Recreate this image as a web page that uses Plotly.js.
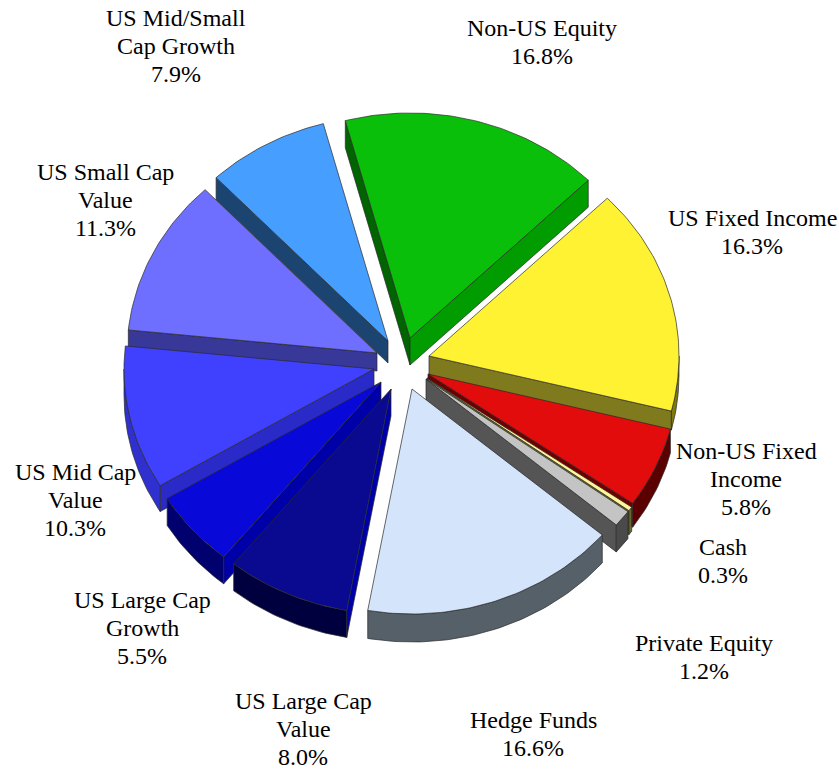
<!DOCTYPE html>
<html>
<head>
<meta charset="utf-8">
<script src="https://cdn.plot.ly/plotly-3.0.1.min.js"></script>
<style>html,body{margin:0;padding:0;background:#fff}#chart{width:839px;height:770px}</style>
</head>
<body>
<div id="chart"></div>
<script>
// Data
const categories = ["Non-US Equity","US Fixed Income","Non-US Fixed Income","Cash","Private Equity","Hedge Funds","US Large Cap Value","US Large Cap Growth","US Mid Cap Value","US Small Cap Value","US Mid/Small Cap Growth"];
const shares = [16.8,16.3,5.8,0.3,1.2,16.6,8.0,5.5,10.3,11.3,7.9];
const labelLines = [["Non-US Equity"],["US Fixed Income"],["Non-US Fixed","Income"],["Cash"],["Private Equity"],["Hedge Funds"],["US Large Cap","Value"],["US Large Cap","Growth"],["US Mid Cap","Value"],["US Small Cap","Value"],["US Mid/Small","Cap Growth"]];

// Styles
const topColors = ["#0ABF0A","#FFF233","#E20C0C","#FFF59A","#C4C4C4","#D3E4FB","#0A0A90","#0808D8","#4040FF","#6E6EFF","#469EFF"];
const startWall = ["#006400","#807A1F","#700000","#6A6A30","#555555","#566068","#0000A8","#0000A8","#2A2AC8","#383898","#1C4470"];
const endWall   = ["#009C00","#807A1F","#700000","#6A6A30","#555555","#566068","#0000A8","#0000A8","#2A2AC8","#383898","#1C4470"];
const arcWall   = ["#006400","#7F7A10","#5A0000","#6A6A30","#4A4A4A","#566068","#00003F","#00006E","#3030D0","#383898","#1C4470"];
// Layout of the exploded pie: where each slice's tip sits, and its thickness
const tipX   = [410,429,428,427,426,412,391,381,374,377,388];
const tipY   = [338,356,374,378,379,389,389,382,369,353,341];
const depths = [27,19,24,24,27,28,27,27,26,18,22];
const labelX = [542,752,746,723,704,533,303,142,75,105,176];
const labelY = [28,218,451,547,643,720,701,600,472,172,18];
const lineStep = 28;
const radiusX = 250, radiusY = 225, startAngle = -15;

const rad = d => d * Math.PI / 180;
const total = shares.reduce((a, b) => a + b, 0);
let cursor = startAngle;
const slices = shares.map((v, i) => {
  const a0 = cursor, a1 = cursor + v / total * 360;
  cursor = a1;
  return {i, a0, a1, mid: (a0 + a1) / 2, ax: tipX[i], ay: tipY[i]};
});
const rim = (s, a) => [s.ax + radiusX * Math.sin(rad(a)), s.ay - radiusY * Math.cos(rad(a))];
const face = (xs, ys, color, name) => ({
  type: "scatter", mode: "lines", x: xs, y: ys, fill: "toself", fillcolor: color,
  line: {color: "#2a2a2a", width: 0.7}, name, hoverinfo: "name", showlegend: false
});

const traces = [];
slices.slice().sort((p, q) => Math.cos(rad(q.mid)) - Math.cos(rad(p.mid))).forEach(s => {
  const i = s.i, d = depths[i], name = categories[i];
  const radial = (a, color) => {
    const p = rim(s, a);
    traces.push(face([s.ax, p[0], p[0], s.ax, s.ax], [s.ay, p[1], p[1] + d, s.ay + d, s.ay], color, name));
  };
  if (Math.sin(rad(s.a0)) < 0) radial(s.a0, startWall[i]);
  if (Math.sin(rad(s.a1)) > 0) radial(s.a1, endWall[i]);
  // Outer wall: only the part on the near half of the ellipse shows
  const from = Math.max(s.a0, 90), to = Math.min(s.a1, 270);
  if (to > from) {
    const tx = [], ty = [], bx = [], by = [];
    for (let a = from; ; a = Math.min(a + 1, to)) {
      const p = rim(s, a);
      tx.push(p[0]); ty.push(p[1]); bx.unshift(p[0]); by.unshift(p[1] + d);
      if (a >= to) break;
    }
    traces.push(face(tx.concat(bx, tx[0]), ty.concat(by, ty[0]), arcWall[i], name));
  }
  // Top face
  const x = [s.ax], y = [s.ay];
  for (let a = s.a0; ; a = Math.min(a + 1, s.a1)) {
    const p = rim(s, a);
    x.push(p[0]); y.push(p[1]);
    if (a >= s.a1) break;
  }
  x.push(s.ax); y.push(s.ay);
  traces.push(face(x, y, topColors[i], name));
});

const annotations = [];
categories.forEach((c, i) => {
  labelLines[i].concat(shares[i].toFixed(1) + "%").forEach((line, n) => {
    annotations.push({
      x: labelX[i], y: labelY[i] + n * lineStep, xref: "x", yref: "y", showarrow: false,
      xanchor: "center", yanchor: "middle", align: "center", text: line
    });
  });
});

Plotly.newPlot("chart", traces, {
  width: 839, height: 770,
  margin: {l: 0, r: 0, t: 0, b: 0},
  paper_bgcolor: "#fff", plot_bgcolor: "#fff",
  font: {family: "Liberation Serif, Times New Roman, serif", size: 24, color: "#000"},
  xaxis: {range: [0, 839], visible: false, fixedrange: true},
  yaxis: {range: [770, 0], visible: false, fixedrange: true},
  showlegend: false, annotations
}, {displayModeBar: false, staticPlot: true});
</script>
</body>
</html>
